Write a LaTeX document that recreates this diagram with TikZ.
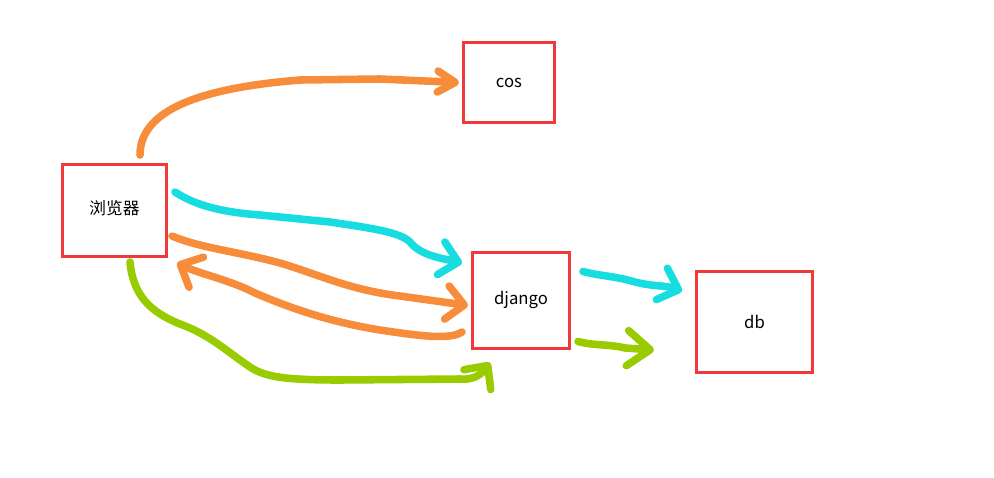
\documentclass[tikz,border=0pt]{standalone}
\usepackage{fontspec}
\newfontfamily\cjk{Noto Sans CJK SC}
\usetikzlibrary{arrows.meta,calc}
\definecolor{boxred}{RGB}{240,58,58}
\definecolor{penorange}{RGB}{247,141,59}
\definecolor{pencyan}{RGB}{24,221,224}
\definecolor{pengreen}{RGB}{153,204,0}
\begin{document}
\begin{tikzpicture}[x=0.02cm,y=-0.02cm]
  \tikzset{box/.style={draw=boxred,line width=1.7pt,inner sep=0pt,font=\cjk\fontsize{9.5}{11}\selectfont},
    pen/.style={line width=4.3pt,line cap=round,line join=round,-{Straight Barb[round,length=10pt,width=19pt]}}}
  \useasboundingbox (0,0) rectangle (994,477);
  \node[box,minimum width=2.08cm,minimum height=1.84cm] (browser) at (114.5,210.5) {\raisebox{3.5pt}{浏览器}};
  \node[box,minimum width=1.82cm,minimum height=1.60cm] (cos) at (509,82.5) {cos};
  \node[box,minimum width=1.94cm,minimum height=1.92cm] (django) at (521,300.5) {\raisebox{3.5pt}{django}};
  \node[box,minimum width=2.32cm,minimum height=2.02cm] (db) at (754.5,322) {db};
  \draw[pen,penorange,-{Straight Barb[round,length=10pt,width=12pt]}] ($(browser.north)+(25.5,-8)$)
    .. controls (140,110) and (200,88) .. (300,80) -- (380,79) -- ($(cos.west)+(-3,0)$);
  \draw[pen,pencyan] ($(browser.east)+(7,-18.5)$) .. controls (195,205) and (220,212) .. (260,215)
    -- (330,222) .. controls (370,228) and (400,232) .. (410,242)
    .. controls (420,255) and (440,258) .. ($(django.west)+(-9,-37.5)$);
  \draw[pen,penorange] ($(browser.east)+(4,25.5)$) .. controls (200,248) and (240,252) .. (280,263)
    .. controls (320,275) and (350,290) .. (400,296) -- ($(django.west)+(-3,5)$);
  \draw[pen,penorange] ($(django.west)+(-9,31.5)$) .. controls (450,340) and (420,336) .. (380,330)
    .. controls (330,322) and (290,308) .. (255,293)
    .. controls (230,280) and (200,274) .. ($(browser.south east)+(9,5)$);
  \draw[pen,pengreen] ($(browser.south)+(15.5,4)$) .. controls (133,295) and (150,312) .. (180,324)
    .. controls (210,335) and (225,350) .. (250,367)
    .. controls (265,377) and (285,380) .. (340,380) -- (460,379)
    .. controls (472,380) and (480,376) .. ($(django.south)+(-31,12.5)$);
  \draw[pen,pencyan] ($(django.east)+(12,-29)$) .. controls (600,276) and (615,276) .. (635,282)
    .. controls (655,287) and (665,285) .. ($(db.west)+(-13,-31)$);
  \draw[pen,pengreen,-{Straight Barb[round,length=13pt,width=20pt]}] ($(django.east)+(7,41)$)
    .. controls (595,346) and (610,344) .. (625,348) -- ($(db.west)+(-41,28)$);
\end{tikzpicture}
\end{document}
